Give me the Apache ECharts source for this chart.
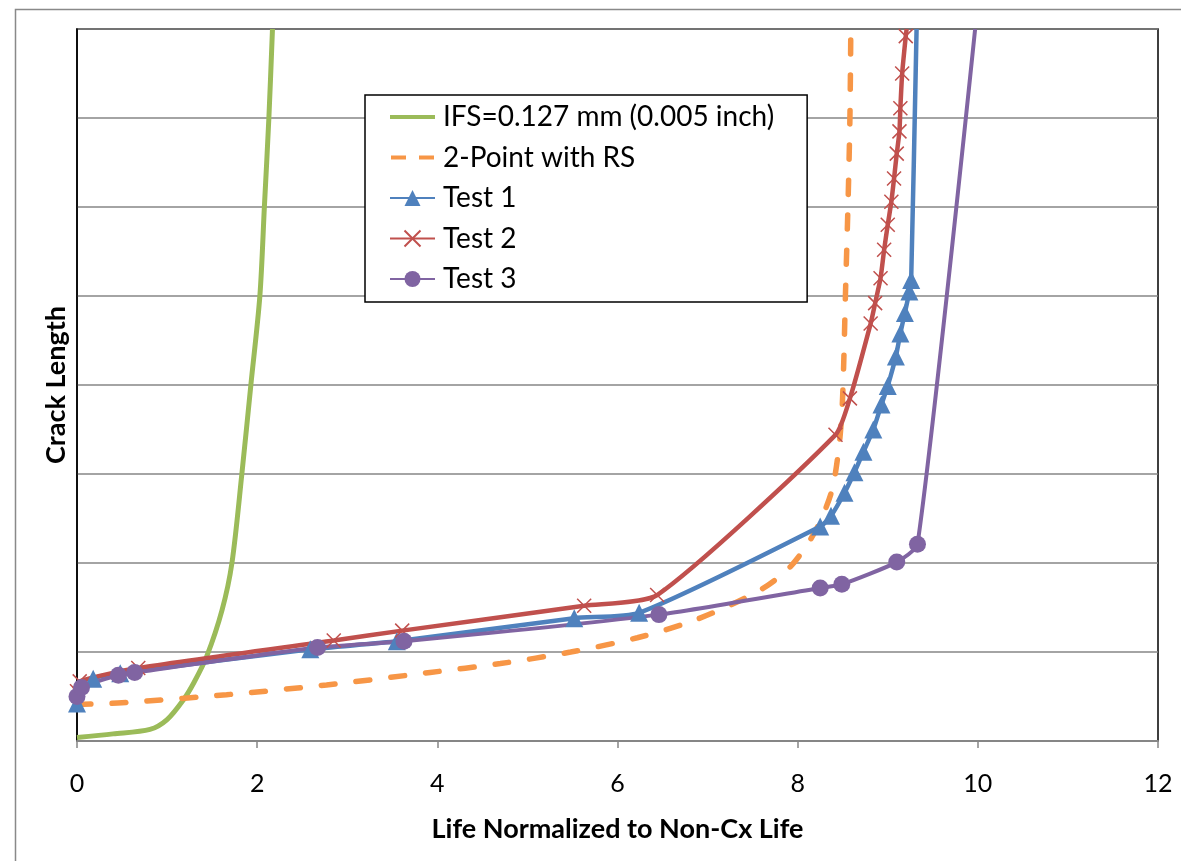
<!DOCTYPE html>
<html>
<head>
<meta charset="utf-8">
<script src="https://cdn.jsdelivr.net/npm/echarts@6/dist/echarts.min.js"></script>
<style>
  html, body { margin: 0; padding: 0; background: #fff; }
  #chart { width: 1181px; height: 861px; }
</style>
</head>
<body>
<div id="chart"></div>
<script>
// legend names
var seriesNames = ["IFS=0.127 mm (0.005 inch)", "2-Point with RS", "Test 1", "Test 2", "Test 3"];

// IFS curve
var ifsX = [0, 0.4, 0.81, 1.0, 1.18, 1.3, 1.44, 1.61, 1.72, 1.83, 1.93, 2.03, 2.08, 2.13, 2.17];
var ifsY = [0.04, 0.08, 0.13, 0.24, 0.46, 0.66, 0.95, 1.47, 2.0, 3.0, 4.0, 5.0, 6.0, 7.0, 8.0];

// 2-Point with RS
var rsX = [0, 0.5, 1.66, 2.77, 3.92, 4.7, 5.48, 6.22, 6.89, 7.59, 7.92, 8.18, 8.37, 8.45, 8.49, 8.51, 8.53, 8.56, 8.58, 8.59];
var rsY = [0.41, 0.43, 0.52, 0.63, 0.77, 0.87, 1.0, 1.16, 1.37, 1.70, 1.96, 2.33, 2.78, 3.23, 3.68, 4.2, 5.0, 6.08, 7.0, 8.0];

// Test 1 (last point = line end, no marker)
var test1X = [0, 0.18, 0.48, 2.59, 3.55, 5.52, 6.24, 8.25, 8.37, 8.52, 8.63, 8.73, 8.84, 8.93, 9.0, 9.09, 9.14, 9.19, 9.24, 9.26, 9.32];
var test1Y = [0.42, 0.70, 0.76, 1.03, 1.12, 1.38, 1.44, 2.41, 2.53, 2.79, 3.02, 3.25, 3.50, 3.78, 3.99, 4.32, 4.58, 4.81, 5.05, 5.18, 8.0];

// Test 2
var test2X = [0, 0.03, 0.68, 2.85, 3.61, 5.63, 6.44, 8.42, 8.58, 8.81, 8.86, 8.92, 8.96, 9.0, 9.04, 9.07, 9.10, 9.13, 9.14, 9.16, 9.2, 9.21];
var test2Y = [0.56, 0.67, 0.82, 1.13, 1.24, 1.52, 1.64, 3.44, 3.85, 4.69, 4.92, 5.2, 5.52, 5.8, 6.06, 6.32, 6.6, 6.85, 7.11, 7.5, 7.92, 8.0];

// Test 3
var test3X = [0, 0.05, 0.46, 0.64, 2.67, 3.63, 6.46, 8.25, 8.49, 9.1, 9.33, 9.97];
var test3Y = [0.5, 0.6, 0.74, 0.77, 1.05, 1.12, 1.42, 1.72, 1.76, 2.01, 2.21, 8.0];

var FONT = "Lato, 'Open Sans', sans-serif";

function pairs(xs, ys) {
  return xs.map(function (x, i) { return [x, ys[i]]; });
}
// the last point of the test curves only ends the line
function pairsOpenEnd(xs, ys) {
  return xs.map(function (x, i) {
    if (i === xs.length - 1) return { value: [x, ys[i]], symbol: 'none' };
    return [x, ys[i]];
  });
}

// plain line / dashed line legend icons (the move-tos keep the 45x20 box)
var solidIcon = 'path://M0,0M0,8H45V12H0ZM45,20';
var dashIcon = 'path://M0,0M1,8H16V12H1ZM29,8H44V12H29ZM45,20';

var myChart = echarts.init(document.getElementById('chart'));
myChart.setOption({
  animation: false,
  backgroundColor: '#fff',
  color: ['#9BBB59', '#F79646', '#4F81BD', '#C0504D', '#8064A2'],
  graphic: [{
    type: 'rect',
    shape: { x: 15.5, y: 9.5, width: 1400, height: 1000 },
    style: { fill: 'none', stroke: '#898989', lineWidth: 1.5 },
    z: -10
  }],
  grid: {
    left: 77, right: 23, top: 29, bottom: 120,
    show: true, borderColor: '#000', borderWidth: 1.5
  },
  legend: {
    data: [
      { name: seriesNames[0], icon: solidIcon },
      { name: seriesNames[1], icon: dashIcon },
      seriesNames[2], seriesNames[3], seriesNames[4]
    ],
    orient: 'vertical',
    left: 365, top: 95,
    padding: [8, 33, 9, 24],
    itemGap: 12.5,
    itemWidth: 45,
    itemHeight: 20,
    backgroundColor: '#fff',
    borderColor: '#000',
    borderWidth: 1.5,
    textStyle: { fontFamily: FONT, fontSize: 28, lineHeight: 28, color: '#000', padding: [0, 0, 0, 3] }
  },
  xAxis: {
    type: 'value',
    min: 0, max: 12, interval: 2,
    name: 'Life Normalized to Non-Cx Life',
    nameLocation: 'middle',
    nameGap: 75,
    nameTextStyle: { fontFamily: FONT, fontSize: 27, fontWeight: 'bold', color: '#000' },
    axisLine: { lineStyle: { color: '#868686', width: 2 } },
    axisTick: { show: true, length: 7, lineStyle: { color: '#868686', width: 1.5 } },
    axisLabel: { fontFamily: FONT, fontSize: 25, color: '#000', margin: 30 },
    splitLine: { show: false }
  },
  yAxis: {
    type: 'value',
    min: 0, max: 8, interval: 1,
    name: 'Crack Length',
    nameLocation: 'middle',
    nameGap: 7,
    nameTextStyle: { fontFamily: FONT, fontSize: 27, fontWeight: 'bold', color: '#000' },
    axisLine: { show: true, lineStyle: { color: '#000', width: 1.5 } },
    axisTick: { show: false },
    axisLabel: { show: false },
    splitLine: { lineStyle: { color: '#868686', width: 1.5 } }
  },
  series: [
    {
      name: seriesNames[0],
      type: 'line',
      data: pairs(ifsX, ifsY),
      symbol: 'none',
      smooth: 0.3,
      lineStyle: { width: 5, color: '#9BBB59' }
    },
    {
      name: seriesNames[1],
      type: 'line',
      data: pairs(rsX, rsY),
      symbol: 'none',
      smooth: 0.3,
      lineStyle: { width: 5.5, color: '#F79646', type: [14, 21], cap: 'round' }
    },
    {
      name: seriesNames[2],
      type: 'line',
      data: pairsOpenEnd(test1X, test1Y),
      symbol: 'triangle',
      symbolSize: 18,
      smooth: 0.2,
      lineStyle: { width: 4.5, color: '#4F81BD' },
      itemStyle: { color: '#4F81BD' }
    },
    {
      name: seriesNames[3],
      type: 'line',
      data: pairsOpenEnd(test2X, test2Y),
      symbol: 'path://M0,0L10,10M10,0L0,10',
      symbolSize: 14,
      smooth: 0.2,
      lineStyle: { width: 4.5, color: '#C0504D' },
      itemStyle: { color: 'rgba(0,0,0,0)', borderColor: '#C0504D', borderWidth: 1.5 }
    },
    {
      name: seriesNames[4],
      type: 'line',
      data: pairsOpenEnd(test3X, test3Y),
      symbol: 'circle',
      symbolSize: 17,
      smooth: 0.2,
      lineStyle: { width: 4, color: '#8064A2' },
      itemStyle: { color: '#8064A2' }
    }
  ]
});
</script>
</body>
</html>
